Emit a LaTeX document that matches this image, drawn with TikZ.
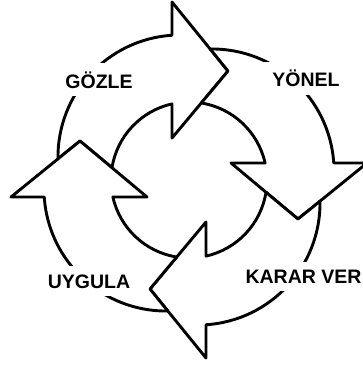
\documentclass[tikz,border=0pt]{standalone}
\usepackage{fontspec}
\setmainfont{Liberation Sans}
\usepackage{tikz}

\begin{document}
\begin{tikzpicture}[x=1pt, y=1pt, line width=2.9pt, line join=round,
    phase/.style={fill=white, inner sep=8pt, anchor=base,
      font=\fontsize{19.5}{23}\selectfont\bfseries}]
      \useasboundingbox (-189,-187) rectangle (174,180);

      % four curved arrows, each tail tucked under the previous head
      \foreach \k in {0,...,3} {
        \draw[fill=white, rotate=-90*\k] (-17,178) -- (39,109) -- (-17,42) -- (-17,76.1)
          arc[start angle=102.6, end angle=170.9, radius=78] -- (-109,39) -- (-131,21.2)
          arc[start angle=180.85, end angle=93.76, radius=122] -- cycle;
      }

      \node[phase] (gozle) at (-90,92) {GÖZLE};
      \node[phase] (yonel) at (117,93) {YÖNEL};
      \node[phase] (kararver) at (114.5,-103) {KARAR VER};
      \node[phase] (uygula) at (-100,-108) {UYGULA};
    \end{tikzpicture}
\end{document}
